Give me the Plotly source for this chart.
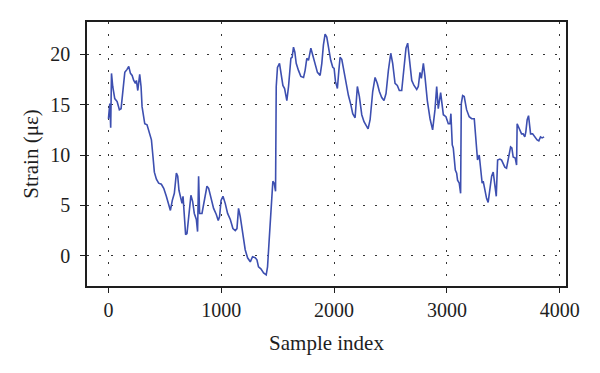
import plotly.graph_objects as go

sample_index = [
    0, 12, 20, 27, 38, 56, 77, 97, 112, 130, 145, 165, 180, 195, 210, 224, 239, 248, 260, 277,
    289, 298, 322, 342, 357, 372, 381, 395, 407, 425, 445, 469, 490, 513, 534, 549, 566, 584, 602, 614,
    625, 637, 652, 661, 673, 684, 696, 711, 731, 746, 761, 779, 790, 799, 808, 829, 850, 873, 888, 912,
    932, 956, 973, 985, 998, 1015, 1035, 1056, 1080, 1103, 1124, 1139, 1153, 1168, 1192, 1212, 1233, 1257, 1277, 1301,
    1316, 1330, 1351, 1375, 1398, 1410, 1428, 1442, 1457, 1469, 1481, 1487, 1498, 1516,
    1528, 1546, 1561, 1581, 1596, 1617, 1628, 1640, 1652, 1664, 1684, 1705, 1729, 1743, 1758, 1773, 1794, 1811, 1832, 1852,
    1876, 1891, 1905, 1920, 1935, 1950, 1970, 1988, 2000, 2012, 2029, 2042, 2053, 2068, 2088, 2106, 2127, 2148, 2165, 2186,
    2206, 2224, 2245, 2265, 2283, 2301, 2319, 2342, 2363, 2383, 2401, 2422, 2442, 2460, 2481, 2502, 2519, 2540, 2560, 2578,
    2599, 2619, 2637, 2652, 2666, 2688, 2708, 2732, 2746, 2761, 2773, 2791,
    2805, 2826, 2850, 2873, 2894, 2909, 2923, 2944, 2968, 2991, 3012, 3027, 3035, 3047, 3056, 3074, 3086, 3094, 3109, 3121,
    3127, 3139, 3153, 3174, 3197, 3219, 3242, 3257, 3271, 3286, 3301, 3312, 3321, 3336, 3351, 3365, 3381, 3396, 3410, 3425,
    3437, 3449, 3469, 3484, 3498, 3513, 3528, 3543, 3564, 3575, 3587, 3605, 3617, 3622, 3640, 3661, 3675, 3690, 3699, 3711,
    3723, 3741, 3759, 3779, 3799, 3814, 3829, 3843, 3861,
]

strain = [
    13.6, 15.1, 12.7, 18.1, 16.8, 15.6, 15.3, 14.5, 14.6, 16.8, 18.2, 18.5, 18.8, 18.1, 17.9, 17.4, 17.1, 17.4, 16.4, 18.0,
    16.8, 14.8, 13.1, 13.0, 12.5, 11.8, 11.5, 9.8, 8.3, 7.6, 7.2, 7.1, 6.7, 5.9, 4.9, 4.5, 5.5, 6.2, 8.2, 7.9,
    6.5, 5.9, 5.2, 5.9, 3.6, 2.1, 2.2, 3.6, 6.0, 5.4, 4.2, 3.6, 2.4, 7.9, 4.2, 4.2, 5.5, 6.9, 6.7, 5.5,
    4.7, 4.1, 3.5, 3.9, 5.5, 5.9, 5.2, 4.2, 3.6, 2.7, 2.5, 2.7, 4.7, 3.9, 2.2, 0.6, -0.2, -0.6, -0.1, -0.2,
    -0.4, -1.1, -1.3, -1.7, -1.9, -1.1, 2.2, 4.9, 7.4, 7.2, 6.4, 16.8, 18.7, 19.1,
    18.1, 16.9, 16.6, 15.4, 16.8, 19.6, 19.7, 20.7, 20.2, 19.1, 18.4, 17.8, 17.7, 18.4, 19.6, 19.4, 20.6, 19.9, 19.1, 18.2,
    17.9, 19.1, 20.9, 22.0, 21.7, 20.7, 19.4, 18.7, 18.6, 17.3, 16.6, 18.4, 19.7, 19.5, 18.2, 17.1, 15.9, 15.0, 14.1, 13.7,
    16.8, 15.8, 14.0, 13.3, 12.9, 12.6, 13.5, 16.3, 17.7, 17.1, 16.3, 15.7, 15.4, 16.1, 18.4, 20.1, 19.1, 17.1, 16.9, 16.4,
    16.4, 18.9, 20.6, 21.1, 19.7, 17.4, 16.9, 16.5, 16.8, 18.2, 17.6, 19.1,
    17.8, 15.4, 13.6, 12.5, 14.5, 16.8, 14.6, 16.2, 14.0, 13.8, 13.1, 13.1, 14.1, 11.0, 10.7, 8.5, 8.2, 7.5, 7.2, 6.2,
    15.1, 15.9, 15.8, 14.5, 13.8, 13.6, 13.6, 11.2, 9.5, 10.0, 8.2, 7.2, 7.4, 6.5, 5.7, 5.3, 6.5, 7.9, 8.3, 7.2,
    5.9, 9.5, 9.6, 9.5, 9.1, 8.8, 8.7, 9.5, 10.8, 10.7, 9.8, 9.7, 9.0, 13.1, 12.6, 12.1, 12.1, 11.8, 12.3, 13.5,
    13.9, 12.1, 12.1, 11.8, 11.5, 11.4, 11.8, 11.7, 11.8,
]

x_ticks = [0, 1000, 2000, 3000, 4000]
y_ticks = [0, 5, 10, 15, 20]

FONT = "Liberation Serif"
INK = "#1e1e1e"

fig = go.Figure()
fig.add_trace(go.Scatter(
    x=sample_index, y=strain, mode="lines",
    line=dict(color="#3d4fb0", width=1.6),
    showlegend=False,
))

axis_common = dict(
    showline=True, linecolor=INK, linewidth=1.5, mirror=True,
    ticks="outside", ticklen=5, tickcolor=INK, tickwidth=1,
    showgrid=True, gridcolor="#333333", gridwidth=1, griddash="2px,10px",
    zeroline=False,
    tickfont=dict(family=FONT, size=20, color=INK),
)

fig.update_xaxes(
    range=[-190, 4055], tickvals=x_ticks, ticklabelstandoff=0,
    title=dict(text="Sample index", font=dict(family=FONT, size=21, color=INK), standoff=16),
    **axis_common,
)
fig.update_yaxes(
    range=[-3.0, 23.2], tickvals=y_ticks, ticklabelstandoff=6,
    title=dict(text="Strain (με)", font=dict(family=FONT, size=21, color=INK), standoff=6),
    **axis_common,
)

# page body has an 8px offset in the browser, so margins are shifted to compensate
fig.update_layout(
    width=600, height=373,
    margin=dict(l=79, r=42, t=14, b=95),
    paper_bgcolor="white", plot_bgcolor="white",
)

fig.write_html("out.html")
